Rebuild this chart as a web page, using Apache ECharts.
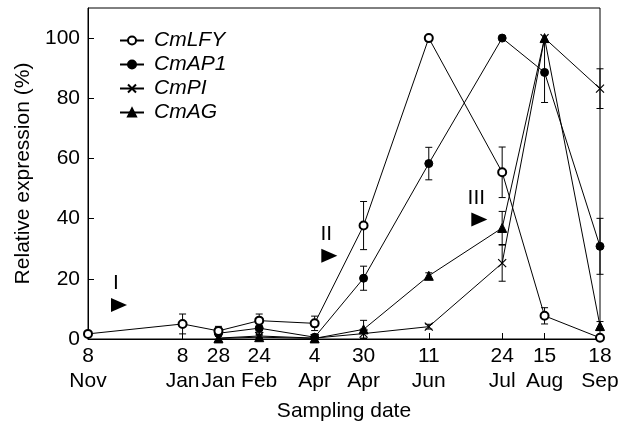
<!DOCTYPE html>
<html>
<head>
<meta charset="utf-8">
<script src="https://cdn.jsdelivr.net/npm/echarts@6/dist/echarts.min.js"></script>
<style>html,body{margin:0;padding:0;background:#fff}#c{width:632px;height:427px}</style>
</head>
<body>
<div id="c"></div>
<script>
// Sampling dates (tick labels) and their positions on the axis (days after 8 Nov)
const dateLabels = ['8\nNov','8\nJan','28\nJan','24\nFeb','4\nApr','30\nApr','11\nJun','24\nJul','15\nAug','18\nSep'];
const sampleDay  = [0, 58, 80, 105, 139, 169, 209, 254, 280, 314];
const yTicks = [0, 20, 40, 60, 80, 100];

// Relative expression (%) and error (+/-)
const lfy    = [1.7, 5.0, 2.7, 6.1, 5.2, 37.7, 100, 55.4, 7.7, 0.4];
const lfyErr = [0, 3.3, 1.5, 2.2, 2.4, 8.0, 0, 8.4, 2.7, 0];
const ap1    = [null, null, 1.9, 3.6, 0.6, 20.2, 58.3, 100, 88.6, 30.8];
const ap1Err = [null, null, 1.0, 1.5, 0.5, 4.0, 5.4, 0, 10.0, 9.3];
const pi     = [null, null, 0.3, 1.0, 0.3, 1.8, 4.1, 25.2, 100, 83.2];
const piErr  = [null, null, 0, 0.5, 0, 1.5, 0.8, 6.0, 0, 6.6];
const ag     = [null, null, 0.2, 0.6, 0.2, 3.2, 21.0, 36.9, 100, 4.3];
const agErr  = [null, null, 0, 0.5, 0, 3.0, 1.0, 5.5, 0, 1.5];

// Stage annotations (arrowheads)
const stageLabels = ['I', 'II', 'III'];
const stageDay    = [19, 148, 240];
const stageValue  = [11.3, 27.7, 39.7];

const FONT = 'Liberation Sans, Arial, Helvetica, sans-serif';
const FS = 21;

function pts(vals) {
  const out = [];
  vals.forEach((v, i) => { if (v !== null) out.push([sampleDay[i], v]); });
  return out;
}
function errPts(vals, errs) {
  const out = [];
  vals.forEach((v, i) => { if (v !== null && errs[i]) out.push([sampleDay[i], v, errs[i]]); });
  return out;
}
const allErr = [].concat(errPts(lfy, lfyErr), errPts(ap1, ap1Err), errPts(pi, piErr), errPts(ag, agErr));

function lineSeries(name, vals, symbol, size, extra) {
  return Object.assign({
    name: name, type: 'line', data: pts(vals),
    symbol: symbol, symbolSize: size, showAllSymbol: true,
    lineStyle: { color: '#000', width: 1 },
    itemStyle: { color: '#000', borderColor: '#000', borderWidth: 1 },
    z: 3
  }, extra || {});
}

const chart = echarts.init(document.getElementById('c'));
chart.setOption({
  animation: false,
  backgroundColor: '#fff',
  textStyle: { fontFamily: FONT },
  grid: { left: 88, right: 32, top: 8, bottom: 88, show: true, borderColor: '#000', borderWidth: 1, backgroundColor: 'transparent' },
  legend: {
    data: ['CmLFY', 'CmAP1', 'CmPI', 'CmAG'],
    orient: 'vertical', left: 114, top: 25,
    itemWidth: 24, itemHeight: 10, itemGap: 3,
    textStyle: { fontFamily: FONT, fontSize: FS, fontStyle: 'italic', color: '#000', lineHeight: 20, padding: [0, 0, 0, 5] }
  },
  xAxis: {
    type: 'value', min: 0, max: 314,
    name: 'Sampling date', nameLocation: 'middle', nameGap: 62,
    nameTextStyle: { fontSize: FS, color: '#000', fontFamily: FONT },
    axisLine: { lineStyle: { color: '#000', width: 1 } },
    axisTick: { inside: true, length: 6, customValues: sampleDay, lineStyle: { color: '#000' } },
    axisLabel: {
      customValues: sampleDay, margin: 5, fontSize: FS, lineHeight: 25, color: '#000', fontFamily: FONT,
      formatter: v => { const i = sampleDay.indexOf(v); return i >= 0 ? dateLabels[i] : ''; }
    },
    splitLine: { show: false }
  },
  yAxis: {
    type: 'value', min: 0, max: 110,
    name: 'Relative expression (%)', nameLocation: 'middle', nameGap: 52,
    nameTextStyle: { fontSize: FS, color: '#000', fontFamily: FONT },
    axisLine: { show: true, lineStyle: { color: '#000', width: 1 } },
    axisTick: { show: true, inside: true, length: 6, customValues: yTicks, lineStyle: { color: '#000' } },
    axisLabel: { customValues: yTicks, margin: 8, fontSize: FS, color: '#000', fontFamily: FONT },
    splitLine: { show: false }
  },
  series: [
    {
      type: 'custom', name: 'err', data: allErr, z: 2, silent: true,
      renderItem: function (params, api) {
        const x = api.value(0), y = api.value(1), e = api.value(2);
        const top = api.coord([x, y + e]);
        const bot = api.coord([x, Math.max(0, y - e)]);
        const hw = 3.5;
        const st = { stroke: '#000', lineWidth: 1 };
        return { type: 'group', children: [
          { type: 'line', shape: { x1: top[0], y1: top[1], x2: bot[0], y2: bot[1] }, style: st },
          { type: 'line', shape: { x1: top[0] - hw, y1: top[1], x2: top[0] + hw, y2: top[1] }, style: st },
          { type: 'line', shape: { x1: bot[0] - hw, y1: bot[1], x2: bot[0] + hw, y2: bot[1] }, style: st }
        ]};
      }
    },
    lineSeries('CmLFY', lfy, 'emptyCircle', 8, { z: 5 }),
    lineSeries('CmAP1', ap1, 'circle', 8),
    lineSeries('CmPI', pi, 'path://M0,0L10,10M10,0L0,10', 8, { itemStyle: { color: 'none', borderColor: '#000', borderWidth: 1.2 } }),
    lineSeries('CmAG', ag, 'triangle', 9),
    {
      type: 'scatter', name: 'stages', silent: true,
      data: stageDay.map((d, i) => ({ value: [d, stageValue[i]], label: { formatter: stageLabels[i] } })),
      symbol: 'path://M0,0L16,7L0,14Z', symbolSize: [16, 14],
      itemStyle: { color: '#000', opacity: 1 },
      label: { show: true, position: 'top', distance: 4, offset: [-3, 0], fontSize: FS, color: '#000', fontFamily: FONT },
      z: 4
    }
  ]
});
</script>
</body>
</html>
